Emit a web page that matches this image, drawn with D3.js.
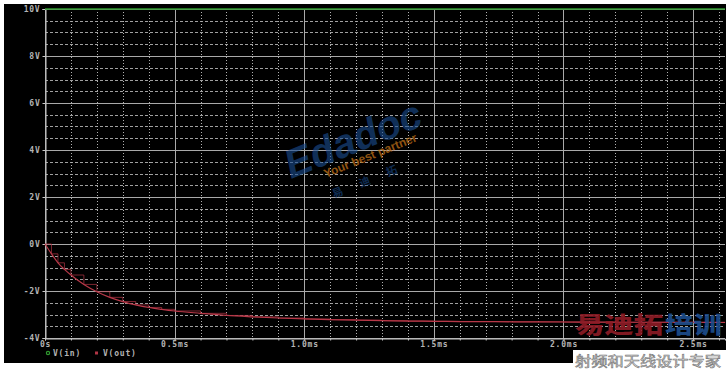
<!DOCTYPE html>
<html><head><meta charset="utf-8">
<script src="https://cdn.jsdelivr.net/npm/d3@7"></script>
<style>
html,body{margin:0;padding:0;background:#fff;}
svg{display:block;}
</style></head>
<body><svg id="c" width="728" height="370"></svg>
<script>
// ---- data ----
const timeMs = [0,0.025,0.05,0.075,0.1,0.15,0.2,0.25,0.3,0.35,0.4,0.45,0.5,0.6,0.7,0.8,0.9,1.0,1.1,1.2,1.3,1.4,1.5,1.6,1.8,2.0,2.2,2.4,2.623];
const vOut   = [0,-0.42,-0.80,-1.08,-1.32,-1.72,-2.03,-2.27,-2.45,-2.59,-2.70,-2.78,-2.85,-2.95,-3.04,-3.10,-3.15,-3.19,-3.22,-3.24,-3.26,-3.28,-3.29,-3.30,-3.31,-3.32,-3.33,-3.33,-3.34];
const vIn    = [10,10,10,10,10,10,10,10,10,10,10,10,10,10,10,10,10,10,10,10,10,10,10,10,10,10,10,10,10];
const yTickValues = [10,8,6,4,2,0,-2,-4];
const yTickLabels = ["10V","8V","6V","4V","2V","0V","-2V","-4V"];
const xTickValues = [0,0.5,1.0,1.5,2.0,2.5];
const xTickLabels = ["0s","0.5ms","1.0ms","1.5ms","2.0ms","2.5ms"];
const legendNames = ["V(in)","V(out)"];

const MONO = "DejaVu Sans Mono, monospace";
// ---- layout ----
const svg = d3.select("#c");
svg.append("rect").attr("x",4).attr("y",4).attr("width",722).attr("height",359).attr("fill","#000");
const x = d3.scaleLinear().domain([0,2.623]).range([45,725]);
const y = d3.scaleLinear().domain([-4,10]).range([338,9]);

const g = svg.append("g");
// minor horizontal grid
const minorY = d3.range(-4,10.001,0.5).filter(v=>Math.abs(v%2)>1e-6);
g.selectAll(".mh").data(minorY).enter().append("line")
 .attr("x1",x(0)).attr("x2",x(2.623)).attr("y1",d=>Math.round(y(d))+0.5).attr("y2",d=>Math.round(y(d))+0.5)
 .attr("stroke","#a0a0a0").attr("stroke-width",1).attr("stroke-dasharray","3,2");
// minor vertical grid
const minorX = d3.range(0.1,2.6501,0.1).filter(v=>Math.abs((v*10)%5)>1e-6 && Math.abs((v*10)%5-5)>1e-6);
g.selectAll(".mv").data(minorX).enter().append("line")
 .attr("y1",y(10)).attr("y2",y(-4)).attr("x1",d=>Math.round(x(d))+0.5).attr("x2",d=>Math.round(x(d))+0.5)
 .attr("stroke","#b0b0b0").attr("stroke-width",1).attr("stroke-dasharray","1,2");
// major grid
g.selectAll(".Mh").data(yTickValues).enter().append("line")
 .attr("x1",x(0)).attr("x2",x(2.623)).attr("y1",d=>Math.round(y(d))+0.5).attr("y2",d=>Math.round(y(d))+0.5)
 .attr("stroke","#a9a9a9").attr("stroke-width",1);
g.selectAll(".Mv").data(xTickValues).enter().append("line")
 .attr("y1",y(10)).attr("y2",y(-4)).attr("x1",d=>Math.round(x(d))+0.5).attr("x2",d=>Math.round(x(d))+0.5)
 .attr("stroke","#a9a9a9").attr("stroke-width",1);

// axes
const yAxis = d3.axisLeft(y).tickValues(yTickValues).tickSize(3).tickFormat((d,i)=>yTickLabels[i]);
const ya = svg.append("g").attr("transform","translate(45.5,0)").call(yAxis);
ya.attr("font-family",MONO);
ya.select(".domain").attr("stroke","#c8c8c8");
ya.selectAll(".tick line").attr("stroke","#c8c8c8");
ya.selectAll(".tick text").attr("fill","#b4b4b4").attr("font-size",8).attr("letter-spacing","0.8px")
  .attr("font-weight","bold").attr("x",-5);

const xAxis = d3.axisBottom(x).tickValues(d3.range(0,2.6501,0.1)).tickSize(2).tickFormat(d=>{
  const i = xTickValues.findIndex(v=>Math.abs(v-d)<1e-6); return i>=0?xTickLabels[i]:"";});
const xa = svg.append("g").attr("transform","translate(0,338.5)").call(xAxis);
xa.attr("font-family",MONO);
xa.select(".domain").attr("stroke","#c8c8c8");
xa.selectAll(".tick line").attr("stroke","#c8c8c8");
xa.selectAll(".tick text").attr("fill","#b4b4b4").attr("font-size",8).attr("letter-spacing","0.8px")
  .attr("font-weight","bold").attr("y",3);

// watermark (Edadoc)
const wm = svg.append("g").attr("transform","translate(358,152) rotate(-22)");
wm.append("text").attr("text-anchor","middle").attr("x",0).attr("y",0)
  .attr("font-family","Liberation Sans, Arial, sans-serif").attr("font-weight","bold").attr("font-style","italic")
  .attr("font-size",40).attr("fill","#1b4f93").attr("opacity",0.6).text("Edadoc");
wm.append("text").attr("text-anchor","middle").attr("x",10).attr("y",12)
  .attr("font-family","Liberation Sans, Arial, sans-serif").attr("font-weight","bold")
  .attr("font-size",12).attr("fill","#c07018").attr("opacity",0.75).text("Your best partner");
wm.append("text").attr("text-anchor","middle").attr("x",4).attr("y",34)
  .attr("font-family","Noto Sans CJK SC").attr("font-weight","bold")
  .attr("font-size",11).attr("fill","#1b4f93").attr("opacity",0.55).attr("letter-spacing","18px").text("易迪拓");

// series
const line = d3.line().x((d,i)=>x(timeMs[i])).y(d=>y(d));
svg.append("path").datum(vIn).attr("d",line).attr("fill","none").attr("stroke","#2f9a2f").attr("stroke-width",1.5);
svg.append("path").datum(vOut).attr("d",d3.line().x((d,i)=>x(timeMs[i])).y(d=>y(d)).curve(d3.curveStepAfter)).attr("fill","none")
  .attr("stroke","#b03545").attr("stroke-width",1).attr("opacity",0.7);
svg.append("path").datum(vOut).attr("d",d3.line().x((d,i)=>x(timeMs[i])).y(d=>y(d)).curve(d3.curveMonotoneX))
  .attr("fill","none").attr("stroke","#b83848").attr("stroke-width",1.2);

// legend
const lg = svg.append("g").attr("transform","translate(0,353)").attr("font-family",MONO);
lg.append("circle").attr("cx",48).attr("cy",0).attr("r",1.6).attr("fill","none").attr("stroke","#2f9a2f").attr("stroke-width",1.2);
lg.append("text").attr("x",53).attr("y",3).attr("fill","#b4b4b4").attr("font-size",8).attr("font-weight","bold")
  .attr("letter-spacing","0.8px").text(legendNames[0]);
lg.append("rect").attr("x",95).attr("y",-1.5).attr("width",3).attr("height",3).attr("fill","#b03545");
lg.append("text").attr("x",103).attr("y",3).attr("fill","#b4b4b4").attr("font-size",8).attr("font-weight","bold")
  .attr("letter-spacing","0.8px").text(legendNames[1]);

// bottom-right watermark
svg.append("rect").attr("x",573).attr("y",350).attr("width",155).attr("height",20).attr("fill","#fff");
svg.append("text").attr("x",575).attr("y",333).attr("font-family","Noto Sans CJK SC").attr("font-weight","900")
  .attr("font-size",23).attr("fill","#8e1c26").attr("opacity",0.9).attr("textLength",88).attr("lengthAdjust","spacingAndGlyphs").text("易迪拓");
svg.append("text").attr("x",665).attr("y",333).attr("font-family","Noto Sans CJK SC").attr("font-weight","900")
  .attr("font-size",23).attr("fill","#1d4e8e").attr("opacity",0.9).attr("textLength",57).attr("lengthAdjust","spacingAndGlyphs").text("培训");
svg.append("text").attr("x",575).attr("y",365.5).attr("font-family","Noto Sans CJK SC")
  .attr("font-size",14).attr("fill","#e8e8e8").attr("stroke","#777").attr("stroke-width",0.6)
  .attr("textLength",146).attr("lengthAdjust","spacingAndGlyphs").text("射频和天线设计专家");
</script></body></html>
